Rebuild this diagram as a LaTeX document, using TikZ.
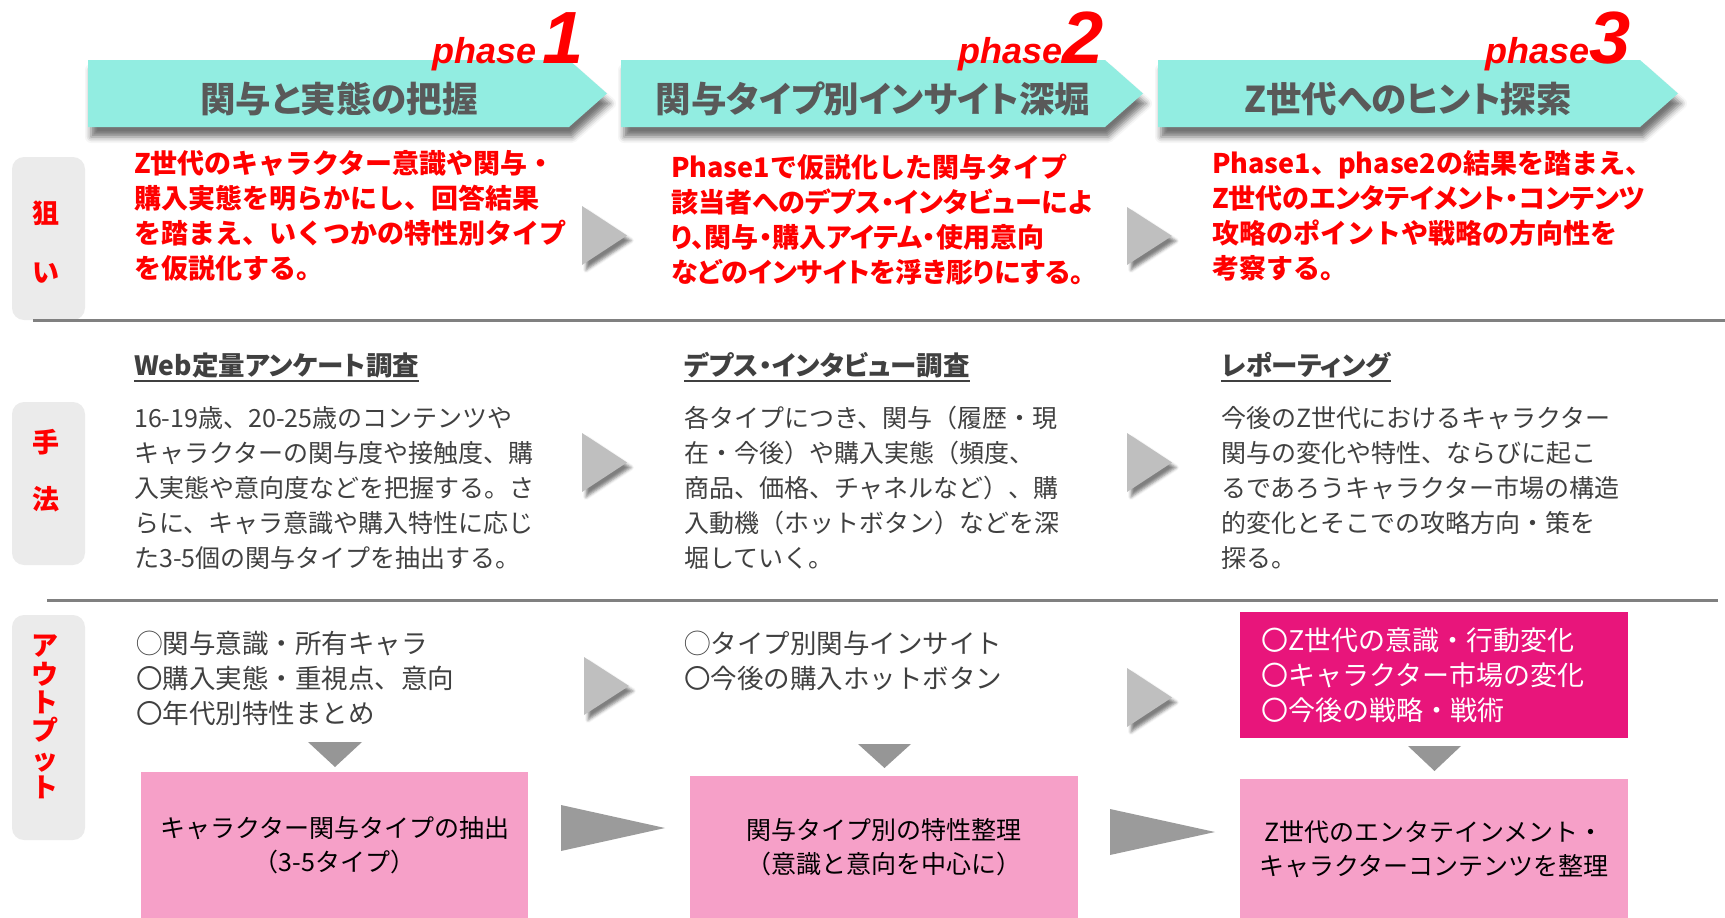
\documentclass[tikz,border=0pt]{standalone}
\usepackage{fontspec}
\setmainfont{Noto Sans CJK JP}
\newfontfamily\phasefont{Liberation Sans}
\newcommand\propw{\addfontfeature{RawFeature=+palt}}
\usetikzlibrary{shadows.blur}
\definecolor{teal1}{RGB}{146,237,225}
\definecolor{bannertxt}{RGB}{89,89,89}
\definecolor{redt}{RGB}{255,0,0}
\definecolor{graybox}{RGB}{235,235,235}
\definecolor{bodygray}{RGB}{64,64,64}
\definecolor{pinkl}{RGB}{246,160,200}
\definecolor{magenta1}{RGB}{232,21,123}
\definecolor{trigray}{RGB}{191,191,191}
\definecolor{dtrigray}{RGB}{150,150,150}
\definecolor{flatgray}{RGB}{155,155,155}
\definecolor{rulegray}{RGB}{128,128,128}
\begin{document}
\begin{tikzpicture}[x=1pt,y=-1pt,
 banner/.style={fill=teal1, blur shadow={shadow xshift=3pt, shadow yshift=-10pt, shadow blur radius=6pt, shadow opacity=55}},
 bannertext/.style={text=bannertxt, font=\fontsize{35.5}{35.5}\selectfont\bfseries\propw, inner sep=0, anchor=base},
 phaselbl/.style={text=redt, inner sep=0, anchor=base east, font=\phasefont\bfseries\itshape},
 sidebox/.style={fill=graybox, rounded corners=12pt},
 sidelbl/.style={text=redt, font=\fontsize{27}{28.3}\selectfont\bfseries, inner sep=0, align=center},
 rulel/.style={draw=rulegray, line width=3pt},
 aim/.style={anchor=base west, align=left, inner sep=0, text=redt, font=\fontsize{27}{35}\selectfont\bfseries},
 head/.style={anchor=base west, inner sep=0, text=bodygray, font=\fontsize{26.5}{35}\selectfont\bfseries\propw},
 headline/.style={draw=bodygray, line width=1.8pt},
 body/.style={anchor=base west, align=left, inner sep=0, text=bodygray, font=\fontsize{25}{35}\selectfont},
 outl/.style={anchor=base west, align=left, inner sep=0, text=bodygray, font=\fontsize{26.5}{35}\selectfont},
 chev/.style={fill=trigray, blur shadow={shadow xshift=4pt, shadow yshift=-5pt, shadow blur radius=3pt, shadow opacity=50}},
 dtri/.style={fill=dtrigray},
 flat/.style={fill=flatgray},
 pinkbox/.style={fill=pinkl, inner sep=0, anchor=north west, align=center, text=black, font=\fontsize{25}{34}\selectfont},
 magbox/.style={fill=magenta1, anchor=north west, inner ysep=0, inner xsep=21pt, align=left, text=white, font=\fontsize{27}{35}\selectfont},
]
\useasboundingbox (0,0) rectangle (1725,918);

% ---------- banners ----------
\path[banner] (88,60) -- (569,60) -- (607,93.5) -- (569,127) -- (88,127) -- cycle;
\path[banner] (621,60) -- (1105,60) -- (1143,93.5) -- (1105,127) -- (621,127) -- cycle;
\path[banner] (1158,60) -- (1640,60) -- (1678,93.5) -- (1640,127) -- (1158,127) -- cycle;
\node[bannertext] (b1) at (339,112) {関与と実態の把握};
\node[bannertext] (b2) at (873,112) {関与タイプ別インサイト深堀};
\node[bannertext] (b3) at (1408,112) {Z世代へのヒント探索};

\node[phaselbl] (p1) at (584,63) {\fontsize{36}{36}\selectfont phase\,\fontsize{74}{74}\selectfont 1};
\node[phaselbl] (p2) at (1104,63) {\fontsize{36}{36}\selectfont phase\fontsize{74}{74}\selectfont 2};
\node[phaselbl] (p3) at (1631,63) {\fontsize{36}{36}\selectfont phase\fontsize{74}{74}\selectfont 3};

% ---------- side boxes ----------
\path[sidebox] (12,157) rectangle (85,320);
\path[sidebox] (12,402) rectangle (85,565);
\path[sidebox] (12,615) rectangle (85,840);
\node[sidelbl] (s1a) at (46,213) {狙};
\node[sidelbl] (s1b) at (46,273) {い};
\node[sidelbl] (s2a) at (46,442) {手};
\node[sidelbl] (s2b) at (46,499) {法};
\node[sidelbl] (s3) at (45,717) {ア\\ウ\\ト\\プ\\ッ\\ト};

% ---------- rules ----------
\draw[rulel] (33,320) -- (1725,320);
\draw[rulel] (47,600) -- (1718,600);

% ---------- row 1: aims (anchor = baseline of last line) ----------
\node[aim] (a1) at (134,278.5) {Z世代のキャラクター意識や関与・\\購入実態を明らかにし、回答結果\\を踏まえ、いくつかの特性別タイプ\\を仮説化する。};
\node[aim] (a2) at (671,282.5) {Phase1で仮説化した関与タイプ\\{\propw 該当者へのデプス・インタビューによ}\\{\propw り、関与・購入アイテム・使用意向}\\{\propw などのインサイトを浮き彫りにする。}};
\node[aim] (a3) at (1212,278.5) {Phase1、phase2の結果を踏まえ、\\{\propw Z世代のエンタテイメント・コンテンツ}\\攻略のポイントや戦略の方向性を\\考察する。};

% ---------- row 2: methods ----------
\node[head] (h1) at (134,375) {Web定量アンケート調査};
\node[head] (h2) at (684,375) {デプス・インタビュー調査};
\node[head] (h3) at (1221,375) {レポーティング};
\draw[headline] ([yshift=-6pt]h1.base west) -- ([yshift=-6pt]h1.base east);
\draw[headline] ([yshift=-6pt]h2.base west) -- ([yshift=-6pt]h2.base east);
\draw[headline] ([yshift=-6pt]h3.base west) -- ([yshift=-6pt]h3.base east);

\node[body] (m1) at (134,567.5) {16-19歳、20-25歳のコンテンツや\\キャラクターの関与度や接触度、購\\入実態や意向度などを把握する。さ\\らに、キャラ意識や購入特性に応じ\\た3-5個の関与タイプを抽出する。};
\node[body] (m2) at (684,567.5) {各タイプにつき、関与（履歴・現\\在・今後）や購入実態（頻度、\\商品、価格、チャネルなど）、購\\入動機（ホットボタン）などを深\\堀していく。};
\node[body] (m3) at (1221,567.5) {今後のZ世代におけるキャラクター\\関与の変化や特性、ならびに起こ\\るであろうキャラクター市場の構造\\的変化とそこでの攻略方向・策を\\探る。};

% ---------- row 3: outputs ----------
\node[outl] (o1) at (136,723) {◯関与意識・所有キャラ\\〇購入実態・重視点、意向\\〇年代別特性まとめ};
\node[outl] (o2) at (684,688) {◯タイプ別関与インサイト\\〇今後の購入ホットボタン};
\node[magbox, text width=346pt, minimum height=126pt] (o3) at (1240,612) {〇Z世代の意識・行動変化\\〇キャラクター市場の変化\\〇今後の戦略・戦術};

\node[pinkbox, minimum width=387pt, minimum height=146pt] (r1) at (141,772) {キャラクター関与タイプの抽出\\（3-5タイプ）};
\node[pinkbox, minimum width=388pt, minimum height=142pt] (r2) at (690,776) {関与タイプ別の特性整理\\（意識と意向を中心に）};
\node[pinkbox, minimum width=388pt, minimum height=139pt] (r3) at (1240,779) {Z世代のエンタテインメント・\\キャラクターコンテンツを整理};

% down triangles
\path[dtri] (308,742) -- (362,742) -- (335,767) -- cycle;
\path[dtri] (858,744) -- (911,744) -- (884.5,768) -- cycle;
\path[dtri] (1408,746) -- (1461,746) -- (1434.5,771) -- cycle;

% flat arrows between result boxes
\path[flat] (561,805) -- (665,828) -- (561,851) -- cycle;
\path[flat] (1110,809) -- (1215,832) -- (1110,855) -- cycle;

% ---------- shaded chevrons ----------
\path[chev] (582,206) -- (627,235.5) -- (582,265) -- cycle;
\path[chev] (582,433) -- (627,462.5) -- (582,492) -- cycle;
\path[chev] (584,657) -- (629,686) -- (584,715) -- cycle;
\path[chev] (1127,207) -- (1172,236) -- (1127,265) -- cycle;
\path[chev] (1127,433) -- (1172,462.5) -- (1127,492) -- cycle;
\path[chev] (1127,668) -- (1172,697.5) -- (1127,727) -- cycle;
\end{tikzpicture}
\end{document}
